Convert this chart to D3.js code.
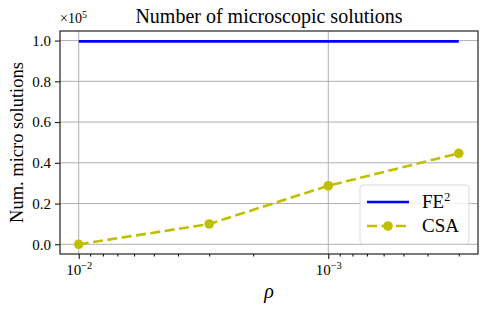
<!DOCTYPE html>
<html>
<head>
<meta charset="utf-8">
<script src="https://cdn.jsdelivr.net/npm/d3@7"></script>
<style>
  body { margin: 0; background: #fff; }
  svg text { font-family: "Liberation Serif", serif !important; fill: #000; }
</style>
</head>
<body>
<div id="chart"></div>
<script>
// data
const rho = [1e-2, 3e-3, 1e-3, 3e-4];
const fe2 = [99600, 99600, 99600, 99600];
const csa = [0, 9960, 28750, 44650];
const yTicks = [0, 0.2, 0.4, 0.6, 0.8, 1.0];
const xMajor = [1e-2, 1e-3];

const width = 488, height = 309,
    margin = ({ top: 31, right: 10, bottom: 55, left: 60 });

const svg = d3.select("#chart")
    .append("svg")
    .attr("width", width)
    .attr("height", height);

// reversed log axis, matplotlib-ish margins
let x = d3.scaleLog([10 ** -1.925, 10 ** -3.6], [margin.left, width - margin.right]);
let y = d3.scaleLinear([-0.0476, 1.047], [height - margin.bottom, margin.top]);

const x0 = margin.left, x1 = width - margin.right;
const y0 = height - margin.bottom, y1 = margin.top;

// grid
svg.append("g")
    .selectAll("line")
    .data(yTicks)
    .join("line")
    .attr("x1", x0).attr("x2", x1)
    .attr("y1", d => y(d)).attr("y2", d => y(d))
    .attr("stroke", "#b0b0b0").attr("stroke-width", 1);

svg.append("g")
    .selectAll("line")
    .data(xMajor)
    .join("line")
    .attr("x1", d => x(d)).attr("x2", d => x(d))
    .attr("y1", y0).attr("y2", y1)
    .attr("stroke", "#b0b0b0").attr("stroke-width", 1);

// minor ticks on x
let minor = [];
for (let e = -4; e <= -2; e++) {
    for (let m = 2; m <= 9; m++) {
        let v = m * 10 ** e;
        if (v < x.domain()[0] && v > x.domain()[1]) minor.push(v);
    }
}

svg.append("g")
    .attr("transform", `translate(0,${y0})`)
    .call(d3.axisBottom(x).tickValues(minor).tickSize(2.5).tickFormat(""))
    .call(g => g.select(".domain").remove());

let xAxis = svg.append("g")
    .attr("transform", `translate(0,${y0})`)
    .call(d3.axisBottom(x).tickValues(xMajor).tickSize(5).tickPadding(4)
        .tickFormat(""))
    .call(g => g.select(".domain").remove());

xAxis.selectAll(".tick")
    .append("text")
    .attr("y", 21)
    .attr("text-anchor", "middle")
    .style("font-size", "15px")
    .each(function (d) {
        const t = d3.select(this);
        t.append("tspan").text("10");
        t.append("tspan").attr("dy", -6).style("font-size", "10.5px")
            .text("\u2212" + Math.round(-Math.log10(d)));
    });

let yAxis = svg.append("g")
    .attr("transform", `translate(${x0},0)`)
    .call(d3.axisLeft(y).tickValues(yTicks).tickSize(5).tickPadding(4)
        .tickFormat(d3.format(".1f")))
    .call(g => g.select(".domain").remove());
yAxis.selectAll("text").style("font-size", "15px");

// frame
svg.append("rect")
    .attr("x", x0).attr("y", y1)
    .attr("width", x1 - x0).attr("height", y0 - y1)
    .attr("fill", "none").attr("stroke", "#222").attr("stroke-width", 1.2);

// lines
const line = d3.line()
    .x((d, i) => x(rho[i]))
    .y(d => y(d / 1e5));

svg.append("path")
    .datum(fe2)
    .attr("d", line)
    .attr("fill", "none")
    .attr("stroke", "#0000ff")
    .attr("stroke-width", 2.6);

svg.append("path")
    .datum(csa)
    .attr("d", line)
    .attr("fill", "none")
    .attr("stroke", "#bfbf00")
    .attr("stroke-width", 2.6)
    .attr("stroke-dasharray", "10,4.5");

svg.append("g")
    .selectAll("circle")
    .data(csa)
    .join("circle")
    .attr("cx", (d, i) => x(rho[i]))
    .attr("cy", d => y(d / 1e5))
    .attr("r", 4.8)
    .attr("fill", "#bfbf00");

// title, labels
svg.append("text")
    .attr("x", (x0 + x1) / 2).attr("y", 23)
    .attr("text-anchor", "middle")
    .style("font-size", "20px")
    .text("Number of microscopic solutions");

let off = svg.append("text")
    .attr("x", x0).attr("y", 23)
    .style("font-size", "14px");
off.append("tspan").text("\u00d710");
off.append("tspan").attr("dy", -5).style("font-size", "10px").text("5");

svg.append("text")
    .attr("transform", `translate(23,${(y0 + y1) / 2}) rotate(-90)`)
    .attr("text-anchor", "middle")
    .style("font-size", "18.5px")
    .text("Num. micro solutions");

svg.append("text")
    .attr("x", (x0 + x1) / 2).attr("y", 298)
    .attr("text-anchor", "middle")
    .style("font-size", "20px")
    .style("font-style", "italic")
    .text("\u03c1");

// legend
const lg = svg.append("g").attr("transform", "translate(360,185)");
lg.append("rect")
    .attr("width", 109).attr("height", 59).attr("rx", 3)
    .attr("fill", "#fff").attr("fill-opacity", 0.8)
    .attr("stroke", "#d9d9d9").attr("stroke-width", 1);

const entries = [
    { key: "FE", sup: "2", color: "#0000ff", dash: null, dot: false },
    { key: "CSA", sup: "", color: "#bfbf00", dash: "10,4.5", dot: true }
];

let item = lg.selectAll(".legend-item")
    .data(entries)
    .join("g")
    .attr("class", "legend-item")
    .attr("transform", (d, i) => `translate(0,${17 + i * 24})`);

item.append("line")
    .attr("x1", 7).attr("x2", 49)
    .attr("stroke", d => d.color)
    .attr("stroke-width", 2.6)
    .attr("stroke-dasharray", d => d.dash);

item.filter(d => d.dot)
    .append("circle")
    .attr("cx", 28).attr("r", 4.8)
    .attr("fill", d => d.color);

let lt = item.append("text")
    .attr("x", 62).attr("y", 6)
    .style("font-size", "19px");
lt.append("tspan").text(d => d.key);
lt.append("tspan").attr("dy", -7).style("font-size", "12px").text(d => d.sup);
</script>
</body>
</html>
